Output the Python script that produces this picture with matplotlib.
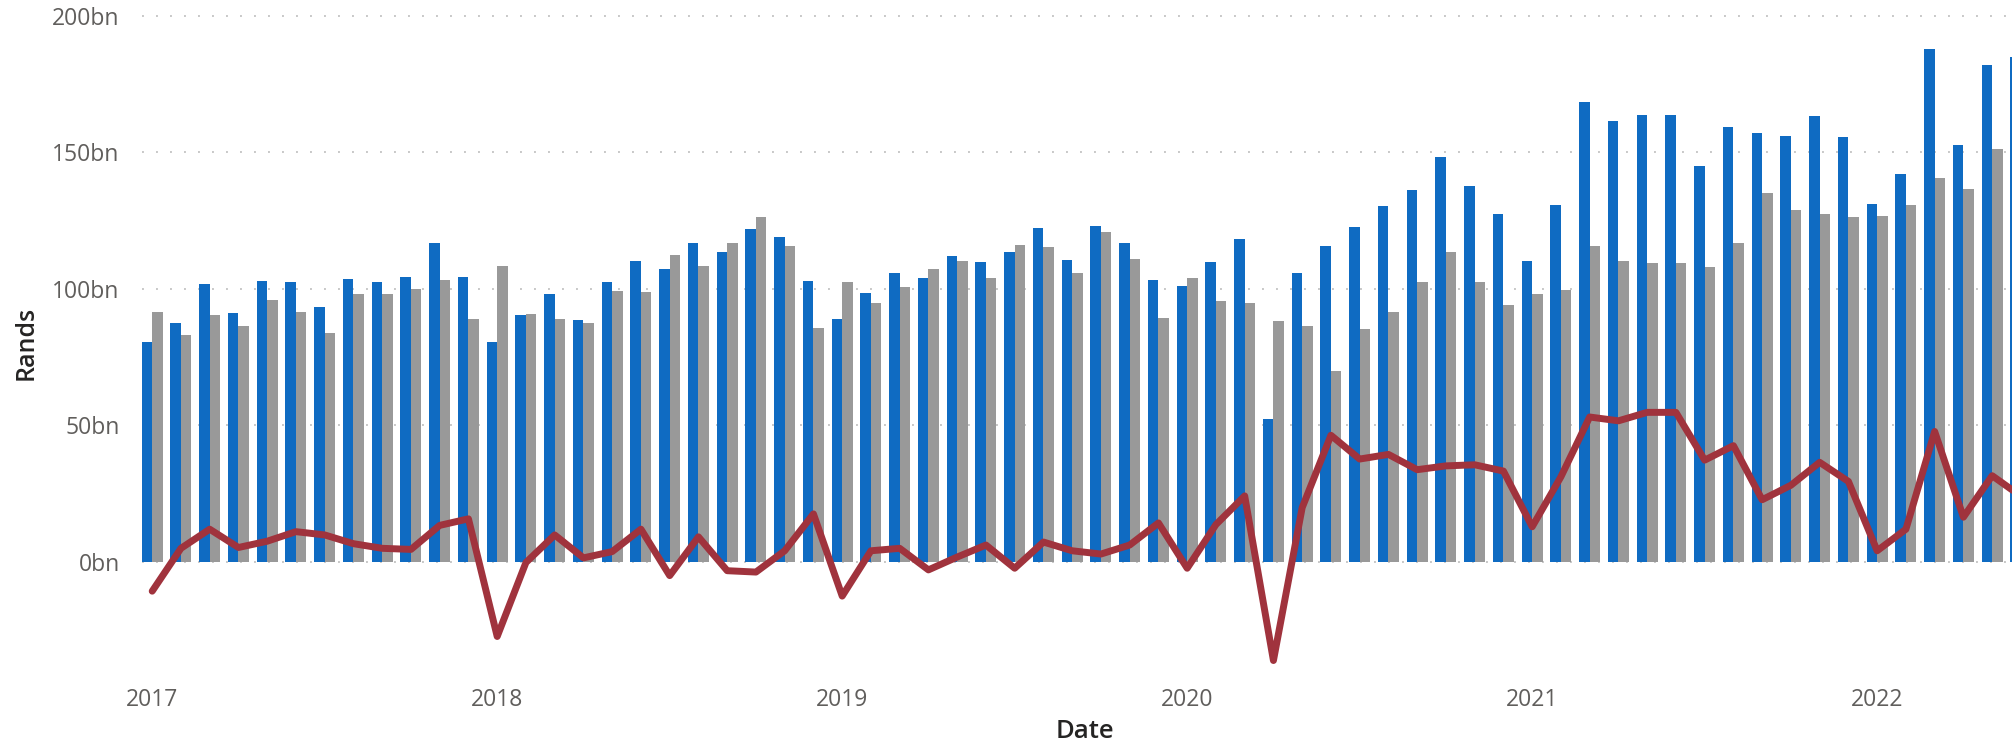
import matplotlib
matplotlib.use("Agg")
import matplotlib.pyplot as plt
import numpy as np

plt.rcParams['font.family'] = ['Open Sans', 'DejaVu Sans']

# monthly values, Jan 2017 .. Jun 2022 (billions of rand)
exports = [80.6, 87.6, 101.6, 91.2, 103.0, 102.3, 93.3, 103.7, 102.6, 104.4, 116.6, 104.4,
           80.6, 90.2, 98.2, 88.6, 102.6, 110.3, 107.3, 116.9, 113.3, 122.0, 119.0, 103.0,
           89.0, 98.6, 105.6, 104.0, 112.0, 109.6, 113.3, 122.4, 110.6, 123.1, 116.6, 103.3,
           101.0, 109.6, 118.3, 52.1, 105.9, 115.7, 122.7, 130.4, 136.0, 148.4, 137.7, 127.4,
           110.3, 130.8, 168.5, 161.5, 163.8, 163.8, 145.1, 159.1, 157.1, 156.1, 163.1, 155.7,
           131.1, 142.1, 187.9, 152.8, 182.1, 185.0]
imports = [91.6, 82.9, 90.2, 86.5, 96.0, 91.6, 83.9, 97.9, 98.2, 100.0, 103.3, 89.0,
           108.4, 90.9, 89.0, 87.6, 99.3, 98.9, 112.4, 108.4, 116.9, 126.4, 115.7, 85.7,
           102.3, 94.6, 100.7, 107.3, 110.3, 104.0, 116.1, 115.4, 105.9, 120.6, 111.0, 89.3,
           104.0, 95.6, 94.6, 88.3, 86.2, 69.9, 85.3, 91.6, 102.6, 113.3, 102.3, 94.2,
           98.2, 99.6, 115.7, 110.3, 109.3, 109.3, 108.0, 116.6, 135.1, 128.7, 127.4, 126.4,
           126.7, 130.8, 140.7, 136.5, 151.2, 161.0]
balance = [-10.8, 4.9, 11.9, 5.2, 7.5, 11.0, 9.8, 6.6, 4.9, 4.5, 13.3, 15.7,
           -27.4, -0.3, 9.8, 1.4, 3.7, 11.9, -5.1, 9.1, -3.3, -3.8, 4.0, 17.5,
           -12.6, 4.0, 4.9, -3.0, 1.7, 6.1, -2.4, 7.2, 4.0, 2.8, 6.1, 14.2,
           -2.4, 13.6, 24.1, -36.2, 19.8, 46.3, 37.6, 39.3, 33.7, 35.1, 35.5, 33.2,
           12.8, 31.1, 53.0, 51.6, 54.7, 54.7, 37.2, 42.5, 22.7, 28.0, 36.4, 29.4,
           4.0, 11.9, 47.7, 16.3, 31.5, 24.0]
years = ['2017', '2018', '2019', '2020', '2021', '2022']
yticks = [0, 50, 100, 150, 200]

x = np.arange(len(exports))
w = 0.365

fig = plt.figure(figsize=(20.12, 7.48), dpi=100)
ax = fig.add_axes([142/2012, 77/748, 1870/2012, 671/748])

ax.bar(x - w/2, exports, width=w, color='#0F6BC2', zorder=2)
ax.bar(x + w/2, imports, width=w, color='#999999', zorder=2)
ax.plot(x, balance, color='#A0333D', lw=5, solid_joinstyle='round',
        solid_capstyle='round', zorder=3)

ax.set_xlim(-0.355, 64.69)
ax.set_ylim(-40.04, 205.75)

ax.set_yticks(yticks)
ax.set_yticklabels([f'{v}bn' for v in yticks])
ax.set_xticks(np.arange(len(years)) * 12)
ax.set_xticklabels(years)
ax.tick_params(length=0, labelsize=16.5, labelcolor='#605E5C')
ax.tick_params(axis='y', pad=16)
ax.tick_params(axis='x', pad=12)

ax.grid(axis='y', color='#C8C8C8', lw=1.4, linestyle=(0, (1, 6.2)), zorder=0)
for s in ax.spines.values():
    s.set_visible(False)

fig.text(26/2012, 1 - 343/748, 'Rands', rotation=90, ha='center', va='center',
         fontsize=18, fontweight='semibold', color='#252423')
fig.text(1085/2012, 1 - 732/748, 'Date', ha='center', va='center',
         fontsize=18.5, fontweight='semibold', color='#252423')

fig.savefig('out.png', dpi=100)
